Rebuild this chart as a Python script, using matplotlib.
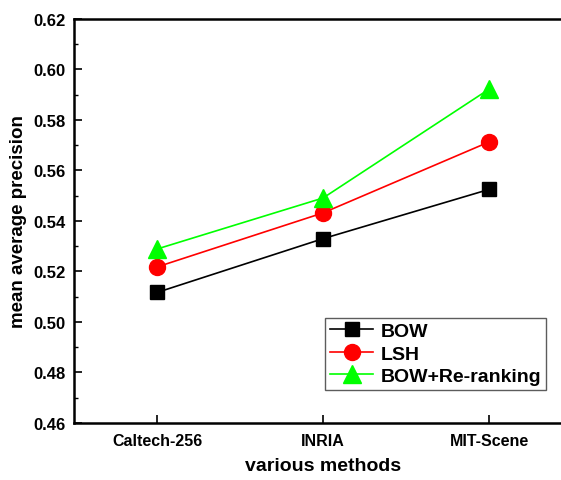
import matplotlib
matplotlib.use('Agg')
import matplotlib.pyplot as plt
from matplotlib.ticker import MultipleLocator

#data
datasets = ['Caltech-256', 'INRIA', 'MIT-Scene']
bow = [0.5117, 0.5330, 0.5525]
lsh = [0.5218, 0.5432, 0.5713]
bow_rerank = [0.5289, 0.5491, 0.5922]

plt.rcParams['font.family'] = ['Liberation Sans', 'DejaVu Sans']
plt.rcParams['font.weight'] = 'bold'

fig = plt.figure(figsize=(5.61, 4.81), dpi=100)
ax = fig.add_axes([0.132, 0.1185, 0.8877, 0.840])

x = range(len(datasets))
ax.plot(x, bow, color='black', marker='s', markersize=10, lw=1.2, label='BOW')
ax.plot(x, lsh, color='red', marker='o', markersize=11.5, lw=1.2, label='LSH')
ax.plot(x, bow_rerank, color='#00ff00', marker='^', markersize=13, lw=1.2, label='BOW+Re-ranking')

ax.set_xlim(-0.5, 2.5)
ax.set_ylim(0.46, 0.62)
ax.set_xticks(list(x))
ax.set_xticklabels(datasets, fontsize=11.5, fontweight='bold')
ax.yaxis.set_major_locator(MultipleLocator(0.02))
ax.yaxis.set_minor_locator(MultipleLocator(0.01))
ax.yaxis.set_major_formatter(plt.FormatStrFormatter('%.2f'))
for lab in ax.get_yticklabels():
    lab.set_fontsize(12)
    lab.set_fontweight('bold')
ax.tick_params(direction='in', which='major', length=6, width=1.2)
ax.tick_params(direction='in', which='minor', length=3, width=1)
ax.tick_params(axis='x', pad=7)
ax.tick_params(axis='y', pad=6)
for s in ax.spines.values():
    s.set_linewidth(1.8)

ax.set_xlabel('various methods', fontsize=14, fontweight='bold', labelpad=7)
ax.set_ylabel('mean average precision', fontsize=13.5, fontweight='bold', labelpad=5)

leg = ax.legend(loc='lower right', bbox_to_anchor=(0.948, 0.082), fontsize=14,
                frameon=True, fancybox=False, handlelength=2.2,
                borderpad=0.25, labelspacing=0.25, handletextpad=0.4,
                borderaxespad=0)
leg.get_frame().set_edgecolor('#333333')
leg.get_frame().set_linewidth(1)

fig.savefig('out.png', dpi=100)
